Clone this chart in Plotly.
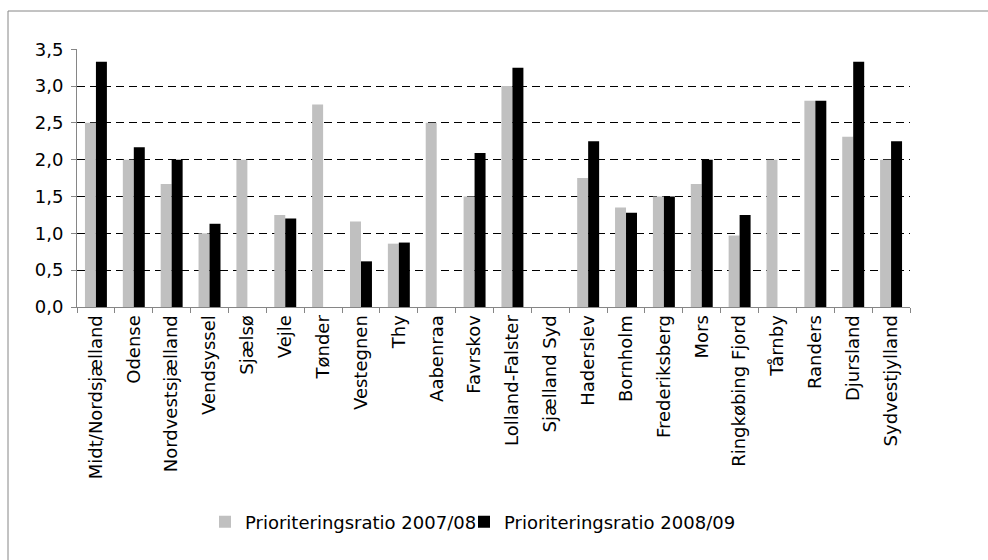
import plotly.graph_objects as go

categories = ["Midt/Nordsjælland", "Odense", "Nordvestsjælland", "Vendsyssel", "Sjælsø",
              "Vejle", "Tønder", "Vestegnen", "Thy", "Aabenraa", "Favrskov",
              "Lolland-Falster", "Sjælland Syd", "Haderslev", "Bornholm", "Frederiksberg",
              "Mors", "Ringkøbing Fjord", "Tårnby", "Randers", "Djursland", "Sydvestjylland"]
ratio_2007_08 = [2.5, 2.0, 1.67, 1.0, 2.0, 1.25, 2.75, 1.16, 0.86, 2.5, 1.5,
                 3.0, None, 1.75, 1.35, 1.5, 1.67, 0.97, 2.0, 2.8, 2.31, 2.0]
ratio_2008_09 = [3.33, 2.17, 2.0, 1.13, None, 1.2, None, 0.62, 0.875, None, 2.09,
                 3.25, None, 2.25, 1.28, 1.5, 2.0, 1.25, None, 2.8, 3.33, 2.25]
series_names = ["Prioriteringsratio 2007/08", "Prioriteringsratio 2008/09"]
y_ticks = [0, 0.5, 1.0, 1.5, 2.0, 2.5, 3.0, 3.5]

FONT = "DejaVu Sans, Verdana, sans-serif"

fig = go.Figure()
fig.add_trace(go.Bar(x=categories, y=ratio_2007_08, name=series_names[0],
                     marker=dict(color="#C0C0C0", line=dict(width=0))))
fig.add_trace(go.Bar(x=categories, y=ratio_2008_09, name=series_names[1],
                     marker=dict(color="#000000", line=dict(width=0))))
# empty, invisible legend entry that only widens the legend box so the last label is not clipped
fig.add_trace(go.Scatter(x=[None], y=[None], name=" ", mode="markers", hoverinfo="skip",
                         marker=dict(color="rgba(0,0,0,0)", size=1)))

W, H = 988, 560
L, R, T, B = 77, 910, 49, 307
pw, ph = R - L, B - T

def px_x(X):
    return (X - L) / pw

def px_y(Y):
    return (B - Y) / ph

border = dict(color="#868686", width=1)

fig.update_layout(
    width=W, height=H,
    margin=dict(l=L, r=W - R, t=T, b=H - B, pad=0, autoexpand=False),
    paper_bgcolor="white", plot_bgcolor="white",
    separators=",.",
    barmode="group", bargap=0.42, bargroupgap=0,
    font=dict(family=FONT, size=18, color="#000000"),
    showlegend=True,
    legend=dict(orientation="h", x=px_x(205), xanchor="left", y=px_y(522), yanchor="middle",
                font=dict(family=FONT, size=18), itemwidth=30, tracegroupgap=0,
                entrywidth=214, entrywidthmode="pixels",
                bgcolor="rgba(0,0,0,0)"),
    xaxis=dict(type="category", categoryorder="array", categoryarray=categories,
               range=[-0.5, len(categories) - 0.5], automargin=False,
               tickangle=-90, showline=True, linecolor="#868686", linewidth=1,
               ticks="outside", ticklen=5, tickcolor="#868686", tickson="boundaries",
               showgrid=False, tickfont=dict(family=FONT, size=18), fixedrange=True),
    yaxis=dict(range=[0, 3.503], tickvals=y_ticks, tickformat=".1f", showline=True,
               automargin=False,
               linecolor="#868686", linewidth=1, ticks="outside", ticklen=5,
               tickcolor="#868686", showgrid=True, gridcolor="#000000", griddash="8px,5px",
               gridwidth=1, zeroline=False, tickfont=dict(family=FONT, size=18),
               ticklabelstandoff=4),
    shapes=[
        dict(type="line", xref="paper", yref="paper", x0=px_x(8), x1=px_x(8),
             y0=px_y(600), y1=px_y(11), line=border, layer="below"),
        dict(type="line", xref="paper", yref="paper", x0=px_x(8), x1=px_x(1000),
             y0=px_y(11), y1=px_y(11), line=border, layer="below"),
    ],
)

fig.write_html("out.html", config={"displayModeBar": False},
               post_script="document.body.style.margin='0';document.body.style.overflow='hidden';")
